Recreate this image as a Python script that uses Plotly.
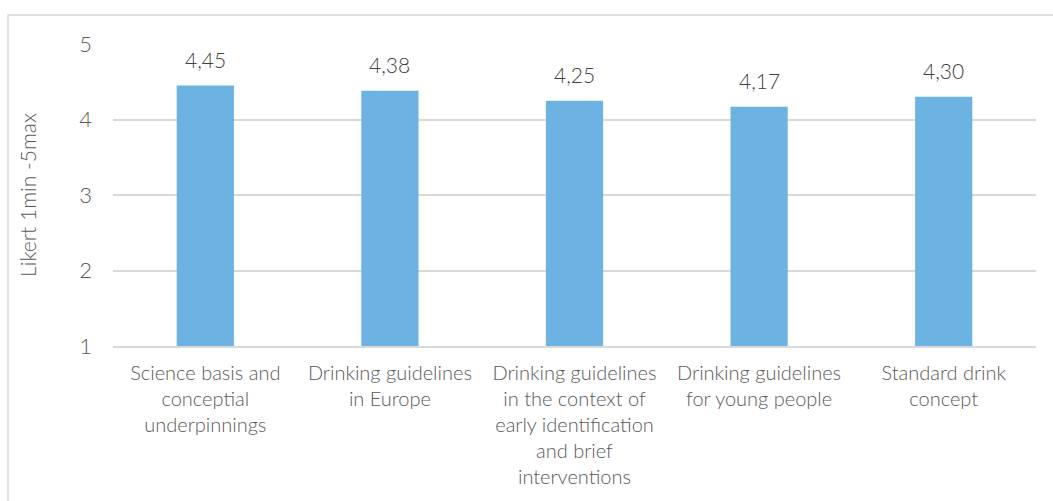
import plotly.graph_objects as go

categories = [
    "Science basis and<br>conceptial<br>underpinnings",
    "Drinking guidelines<br>in Europe",
    "Drinking guidelines<br>in the context of<br>early identification<br>and brief<br>interventions",
    "Drinking guidelines<br>for young people",
    "Standard drink<br>concept",
]
scores = [4.45, 4.38, 4.25, 4.17, 4.30]
y_ticks = [1, 2, 3, 4, 5]

W, H = 1053, 501
L, R, T, B = 113, 17, 44, 155
pw, ph = W - L - R, H - T - B

FONT = "Lato"
GREY = "#595959"
DARK = "#404040"
WT = 300

fig = go.Figure()
fig.add_trace(go.Bar(
    x=categories,
    y=scores,
    base=0,
    marker=dict(color="#6cb3e3", line=dict(width=0)),
    hoverinfo="skip",
))

# value labels above each bar
for c, v in zip(categories, scores):
    fig.add_annotation(
        x=c, y=v, text=f"{v:.2f}".replace(".", ","),
        showarrow=False, yanchor="bottom", yshift=12,
        font=dict(family=FONT, size=21, color=DARK, weight=WT),
    )

# outer chart frame
fig.add_shape(
    type="rect", xref="paper", yref="paper",
    x0=(8 - L) / pw, x1=(W + 5 - L) / pw,
    y0=-(H + 5 - T - ph) / ph, y1=(ph + T - 15) / ph,
    line=dict(color="#d9d9d9", width=1.5), layer="below",
)

fig.update_layout(
    width=W, height=H,
    margin=dict(l=L, r=R, t=T, b=B),
    paper_bgcolor="white", plot_bgcolor="white",
    bargap=0.69,
    showlegend=False,
    separators=", ",
    font=dict(family=FONT, color=GREY, weight=WT),
)
fig.update_xaxes(
    showgrid=False, showline=True, linecolor="#d9d9d9", linewidth=2,
    tickfont=dict(family=FONT, size=20, color=GREY, weight=WT),
    ticks="", ticklabelstandoff=8,
)
fig.update_yaxes(
    range=[1, 5], tickvals=y_ticks,
    showgrid=True, gridcolor="#d9d9d9", gridwidth=1.5, zeroline=False,
    tickfont=dict(family=FONT, size=22, color=GREY, weight=WT),
    ticks="", ticklabelstandoff=20,
    title=dict(text="Likert 1min -5max", font=dict(family=FONT, size=21, color=GREY, weight=WT), standoff=36),
)

fig.write_html("out.html")
